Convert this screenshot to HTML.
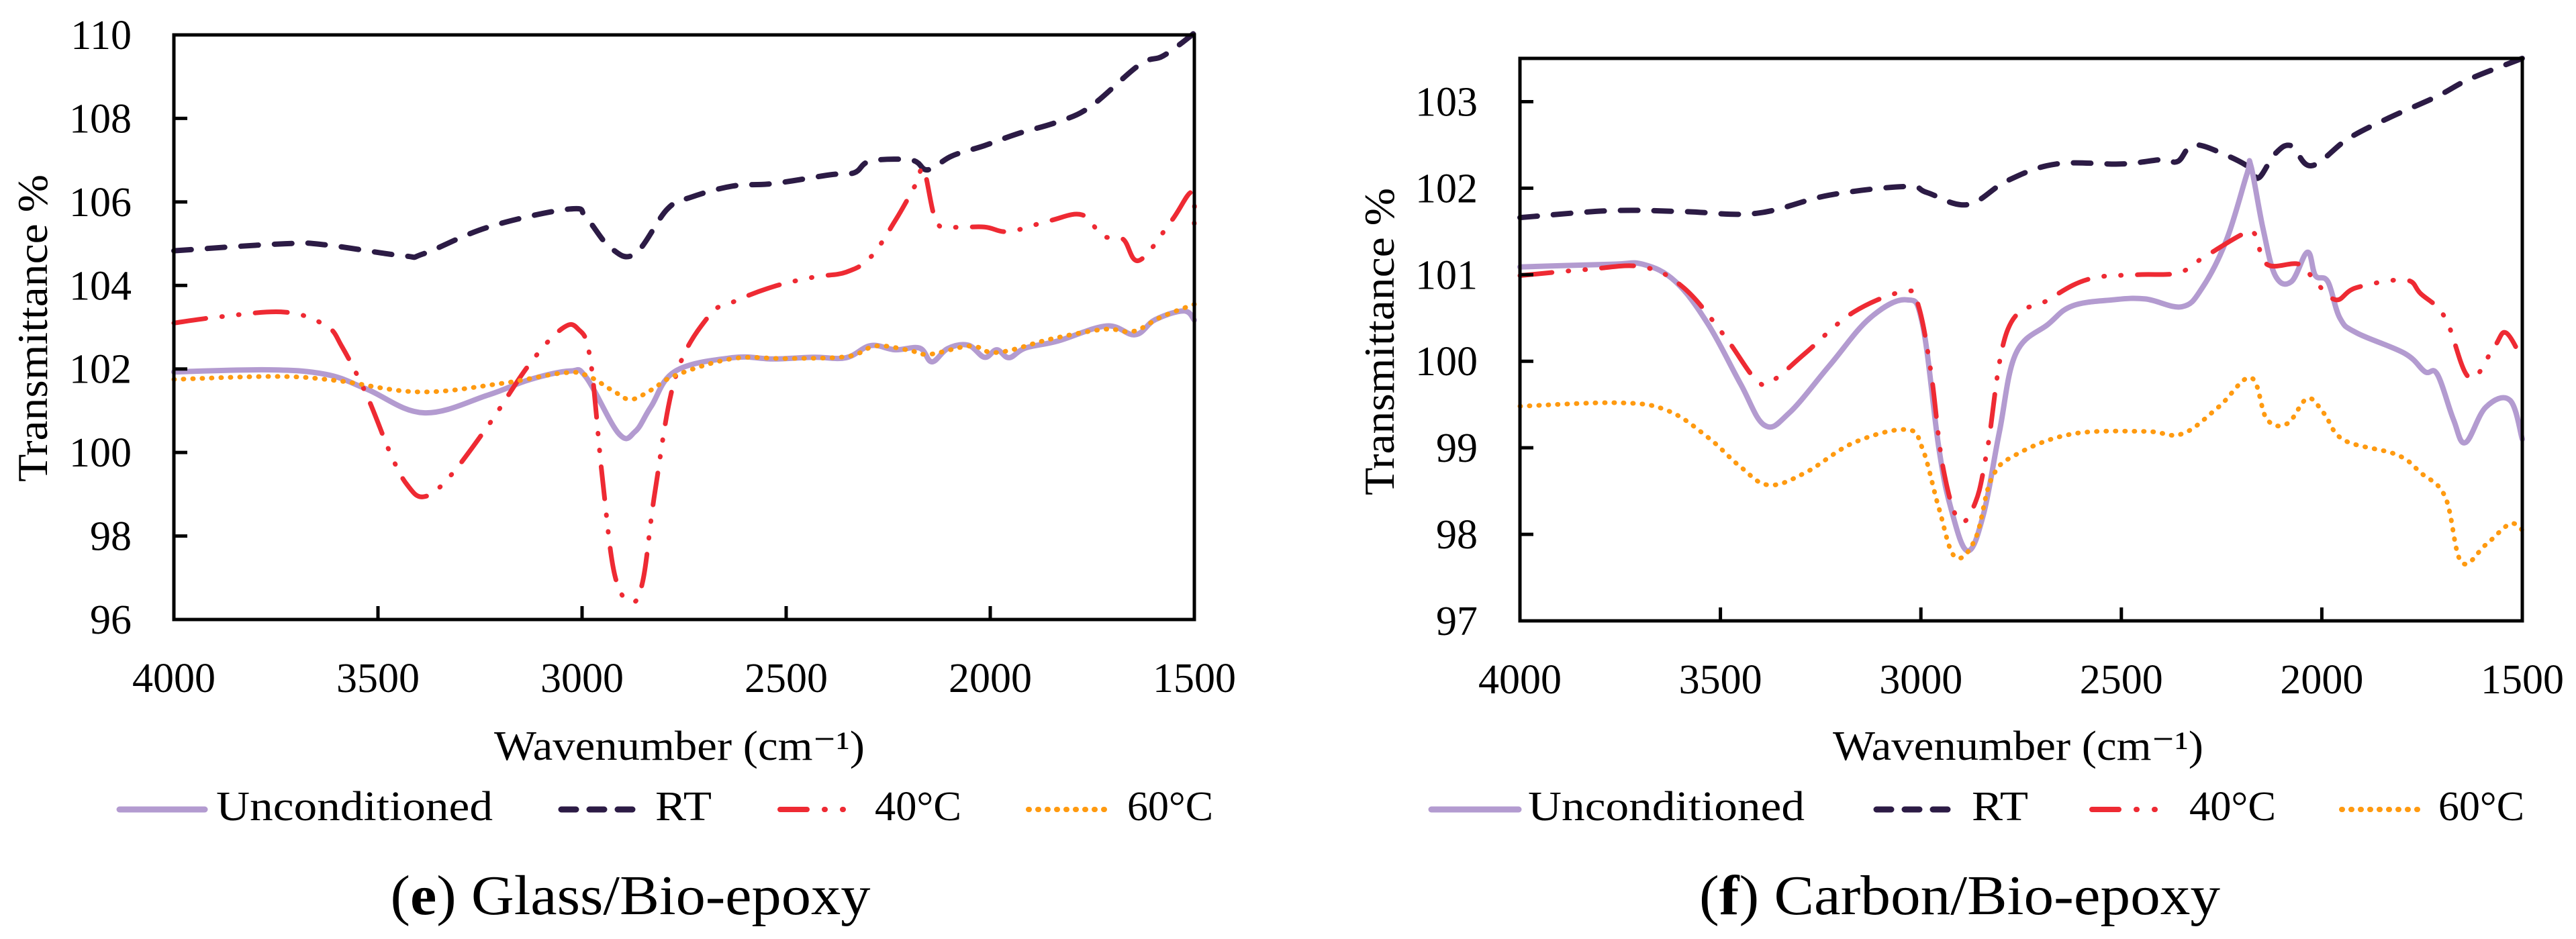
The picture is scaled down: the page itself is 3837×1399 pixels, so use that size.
<!DOCTYPE html>
<html><head><meta charset="utf-8"><title>FTIR spectra</title>
<style>
html,body{margin:0;padding:0;background:#fff;}
svg{display:block;font-family:"Liberation Serif",serif;}
</style></head>
<body>
<svg id="chart" xmlns="http://www.w3.org/2000/svg" width="3837" height="1399" viewBox="0 0 3837 1399"></svg>
<script>
// ---------- Panel (e) Glass/Bio-epoxy data ----------
const eUncWn  = [4000,3767,3627,3528,3388,3229,3130,3030,2990,2910,2870,2831,2771,2631,2532,2432,2353,2293,2233,2173,2143,2104,2054,2014,1984,1954,1914,1834,1715,1645,1596,1526,1500];
const eUncVal = [101.93,101.98,101.87,101.52,100.95,101.38,101.74,101.95,101.8,100.45,100.5,101.1,101.95,102.27,102.24,102.28,102.27,102.56,102.46,102.5,102.17,102.49,102.57,102.28,102.46,102.27,102.5,102.67,103.03,102.82,103.18,103.39,103.17];
const eRtWn   = [4000,3727,3627,3438,3388,3229,3030,2990,2930,2870,2791,2731,2631,2532,2392,2333,2293,2193,2153,2094,2014,1934,1834,1755,1635,1576,1506,1500];
const eRtVal  = [104.83,105.0,104.97,104.71,104.76,105.4,105.83,105.62,104.9,104.76,105.83,106.12,106.38,106.44,106.65,106.7,106.98,107.0,106.77,107.1,107.35,107.63,107.92,108.28,109.28,109.5,110.0,110.1];
const e40Wn   = [4000,3886,3727,3627,3588,3528,3468,3428,3388,3329,3229,3130,3050,3010,2980,2950,2920,2880,2851,2821,2771,2691,2631,2532,2432,2353,2293,2233,2183,2163,2133,2094,2014,1954,1855,1775,1725,1675,1635,1556,1506,1500];
const e40Val  = [103.1,103.25,103.36,103.03,102.53,101.38,99.94,99.22,98.94,99.37,100.66,102.1,102.96,102.96,102.24,99.37,97.07,96.42,96.93,99.08,101.81,103.25,103.6,103.97,104.2,104.32,104.68,105.55,106.41,106.77,105.55,105.4,105.4,105.29,105.55,105.69,105.19,105.11,104.6,105.55,106.23,105.4];
const e60Wn   = [4000,3750,3600,3400,3200,3050,2990,2920,2880,2830,2770,2630,2500,2350,2280,2200,2150,2050,2000,1950,1850,1720,1650,1580,1500];
const e60Val  = [101.75,101.82,101.72,101.45,101.65,101.9,101.85,101.45,101.27,101.5,101.85,102.25,102.25,102.3,102.55,102.45,102.35,102.55,102.4,102.45,102.72,102.95,102.9,103.25,103.55];
const eYTicks = ["96","98","100","102","104","106","108","110"];
const xTicks  = ["4000","3500","3000","2500","2000","1500"];

// ---------- Panel (f) Carbon/Bio-epoxy data ----------
const fUncWn  = [4000,3774,3693,3612,3531,3450,3390,3329,3228,3127,3036,2996,2955,2925,2884,2844,2804,2763,2682,2622,2521,2440,2349,2298,2238,2187,2177,2147,2116,2076,2036,2016,1985,1955,1914,1793,1743,1712,1672,1642,1591,1531,1500];
const fUncVal = [101.09,101.12,101.12,100.92,100.43,99.74,99.26,99.4,99.95,100.5,100.71,100.43,98.99,98.3,97.81,98.23,99.19,100.09,100.43,100.64,100.71,100.72,100.63,100.85,101.4,102.16,102.26,101.54,100.99,100.92,101.26,100.99,100.92,100.5,100.33,100.09,99.88,99.85,99.33,99.06,99.47,99.55,99.1];
const fRtWn   = [4000,3774,3592,3410,3228,3036,2985,2884,2783,2662,2500,2399,2359,2319,2238,2177,2157,2116,2076,2026,1935,1834,1713,1632,1500];
const fRtVal  = [101.66,101.74,101.73,101.71,101.92,102.02,101.95,101.81,102.09,102.28,102.28,102.33,102.31,102.5,102.38,102.23,102.12,102.4,102.49,102.26,102.57,102.81,103.06,103.26,103.5];
const f40Wn   = [4000,3835,3693,3592,3491,3410,3369,3289,3167,3036,3006,2975,2945,2905,2864,2834,2783,2682,2581,2460,2359,2298,2197,2167,2137,2056,2016,1965,1914,1793,1753,1692,1632,1571,1541,1500];
const f40Val  = [100.99,101.06,101.09,100.85,100.3,99.78,99.78,100.09,100.57,100.81,100.64,99.88,98.78,98.16,98.37,98.99,100.37,100.71,100.95,101.0,101.02,101.19,101.47,101.47,101.12,101.12,100.92,100.71,100.85,100.94,100.78,100.5,99.81,100.16,100.33,100.02];
const f60Wn   = [4000,3753,3632,3531,3450,3380,3289,3167,3036,2996,2955,2915,2864,2824,2763,2622,2440,2349,2258,2177,2137,2086,2036,1995,1945,1813,1753,1692,1652,1591,1531,1500];
const f60Val  = [99.48,99.52,99.43,99.12,98.78,98.57,98.71,99.06,99.21,98.99,98.3,97.74,97.95,98.64,98.92,99.16,99.19,99.16,99.47,99.81,99.33,99.28,99.57,99.4,99.09,98.92,98.71,98.43,97.68,97.88,98.12,98.05];
const fYTicks = ["97","98","99","100","101","102","103"];

const NS = "http://www.w3.org/2000/svg";
const svg = document.getElementById('chart');
function mk(tag, attrs, parent){
  const el = document.createElementNS(NS, tag);
  for (const k in attrs) el.setAttribute(k, attrs[k]);
  (parent||svg).appendChild(el);
  return el;
}
function smoothPath(pts){
  let d = "M" + pts[0][0].toFixed(1) + "," + pts[0][1].toFixed(1);
  for (let i=0;i<pts.length-1;i++){
    const p0 = pts[i-1]||pts[i], p1=pts[i], p2=pts[i+1], p3=pts[i+2]||p2;
    const t=0.18;
    const c1x=p1[0]+(p2[0]-p0[0])*t, c1y=p1[1]+(p2[1]-p0[1])*t;
    const c2x=p2[0]-(p3[0]-p1[0])*t, c2y=p2[1]-(p3[1]-p1[1])*t;
    d += " C"+c1x.toFixed(1)+","+c1y.toFixed(1)+" "+c2x.toFixed(1)+","+c2y.toFixed(1)+" "+p2[0].toFixed(1)+","+p2[1].toFixed(1);
  }
  return d;
}
const styles = {
  unc:{stroke:"#b39bd0",w:8,dash:null,cap:"round"},
  rt:{stroke:"#2c1b45",w:8,dash:"26 24",cap:"round"},
  c40:{stroke:"#ee2a33",w:7,dash:"48 24 1 24 1 24",cap:"round"},
  c60:{stroke:"#ff9a10",w:7,dash:"1 13",cap:"round"}
};

function panel(cfg){
  const g = mk('g', {});
  
  
  const xs = wn => cfg.x0 + (4000 - wn) / 2500 * (cfg.x1 - cfg.x0);
  const ys = v => cfg.y1 - (v - cfg.ymin) / (cfg.ymax - cfg.ymin) * (cfg.y1 - cfg.y0);
  const series = [["unc",cfg.unc,"series-unconditioned"],["rt",cfg.rt,"series-rt"],["c40",cfg.c40,"series-40c"],["c60",cfg.c60,"series-60c"]];
  const sg = mk('g', {}, g);
  
  
  const order = [1,0,2,3];
  order.forEach(i=>{
    const [k,[wns,vals],nm] = series[i];
    const pts = wns.map((w,j)=>[xs(w), ys(vals[j])]);
    const st = styles[k];
    const p = mk('path', {d:smoothPath(pts), fill:"none", stroke:st.stroke, "stroke-width":st.w, "stroke-linecap":st.cap, "stroke-linejoin":"round"}, sg);
    if (st.dash) p.setAttribute('stroke-dasharray', st.dash);
    
    
  });
  const fr = mk('rect', {x:cfg.x0, y:cfg.y0, width:cfg.x1-cfg.x0, height:cfg.y1-cfg.y0, fill:"none", stroke:"#000", "stroke-width":5}, g);
  
  
  cfg.yt.forEach(lbl=>{
    const v = parseFloat(lbl), y = ys(v);
    if (v > cfg.ymin && v < cfg.ymax) {
      const t = mk('line', {x1:cfg.x0, x2:cfg.x0+20, y1:y, y2:y, stroke:"#000","stroke-width":5}, g);
      
      
    }
    const tx = mk('text', {x:cfg.x0-63, y:y+21, "text-anchor":"end", "font-size":62, fill:"#000"}, g);
    tx.textContent = lbl;
    
    
  });
  xTicks.forEach(lbl=>{
    const x = xs(parseFloat(lbl));
    if (x > cfg.x0+2 && x < cfg.x1-2) {
      const t = mk('line', {x1:x, x2:x, y1:cfg.y1, y2:cfg.y1-20, stroke:"#000","stroke-width":5}, g);
      
      
    }
    const tx = mk('text', {x:x, y:cfg.y1+108, "text-anchor":"middle", "font-size":62, fill:"#000"}, g);
    tx.textContent = lbl;
    
    
  });
  const yt = mk('text', {x:0, y:0, transform:"translate("+(cfg.ytx)+","+cfg.yty+") rotate(-90)", "text-anchor":"middle", "font-size":64, fill:"#000", textLength:458, lengthAdjust:"spacingAndGlyphs"}, g);
  yt.textContent = "Transmittance %";
  
  
  const xt = mk('text', {x:cfg.xtx, y:1132, "text-anchor":"middle", "font-size":62, fill:"#000", textLength:552, lengthAdjust:"spacingAndGlyphs"}, g);
  xt.textContent = "Wavenumber (cm\u207B\u00B9)";
  
  
  const lg = mk('g', {}, g);
  
  
  const labels = ["Unconditioned","RT","40\u00B0C","60\u00B0C"];
  const keys = ["unc","rt","c40","c60"];
  const lw = [412, 84, 129, 128];
  cfg.leg.forEach((e,i)=>{
    const st = styles[keys[i]];
    const ln = mk('line', {x1:e[0], x2:e[1], y1:1206, y2:1206, stroke:st.stroke, "stroke-width":st.w+1, "stroke-linecap":"round"}, lg);
    if (st.dash) ln.setAttribute('stroke-dasharray', keys[i]==="c40" ? "40 26 1 26 1 26" : (keys[i]==="rt"?"22 20":st.dash));
    
    
    const tx = mk('text', {x:e[2], y:1222, "font-size":62, fill:"#000", textLength:lw[i], lengthAdjust:"spacingAndGlyphs"}, lg);
    tx.textContent = labels[i];
    
    
  });
  const cp = mk('text', {x:cfg.capx, y:1362, "text-anchor":"middle", "font-size":84, fill:"#000", textLength:cfg.capw, lengthAdjust:"spacingAndGlyphs"}, g);
  
  
  const b = document.createElementNS(NS,'tspan');
  cp.appendChild(document.createTextNode("("));
  b.setAttribute('font-weight','bold'); b.textContent = cfg.letter; cp.appendChild(b);
  cp.appendChild(document.createTextNode(") " + cfg.caption));
}

panel({name:"panel-e-glass", x0:259, x1:1779, y0:52, y1:923, ymin:96, ymax:110,
  unc:[eUncWn,eUncVal], rt:[eRtWn,eRtVal], c40:[e40Wn,e40Val], c60:[e60Wn,e60Val], yt:eYTicks,
  ytx:70, yty:489, xtx:1012,
  leg:[[178,305,322],[836,962,976],[1162,1272,1303],[1532,1655,1679]],
  capx:939, capw:715, letter:"e", caption:"Glass/Bio-epoxy"});
panel({name:"panel-f-carbon", x0:2264, x1:3757, y0:87, y1:925, ymin:97, ymax:103.5,
  unc:[fUncWn,fUncVal], rt:[fRtWn,fRtVal], c40:[f40Wn,f40Val], c60:[f60Wn,f60Val], yt:fYTicks,
  ytx:2076, yty:509, xtx:3006,
  leg:[[2132,2262,2276],[2795,2917,2937],[3116,3226,3261],[3488,3610,3632]],
  capx:2919, capw:776, letter:"f", caption:"Carbon/Bio-epoxy"});
</script>
</body></html>
